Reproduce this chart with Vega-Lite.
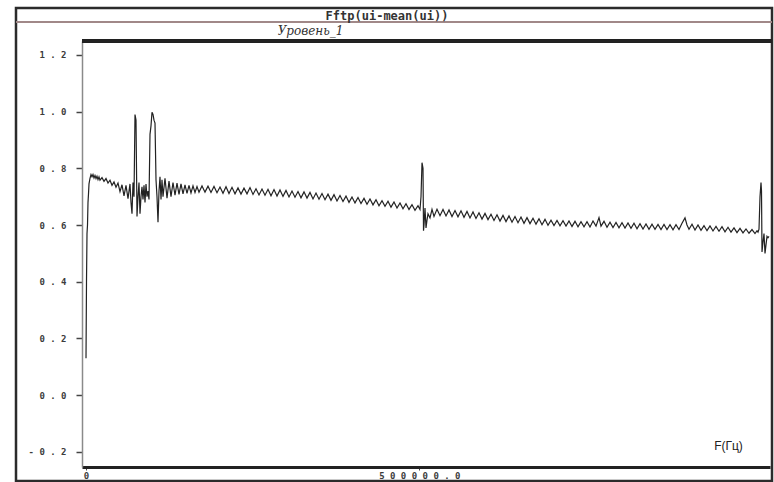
{
  "$schema": "https://vega.github.io/schema/vega-lite/v6.json",
  "autosize": {"type": "none"},
  "padding": {"left": 16, "top": 8, "right": 2, "bottom": 1},
  "width": 756,
  "height": 473,
  "background": "white",
  "config": {
    "view": {"stroke": "#2b2b2b", "strokeWidth": 2.5, "fill": "white"}
  },
  "title": {
    "text": "Fftp(ui-mean(ui))",
    "anchor": "middle",
    "frame": "group",
    "dx": -7,
    "dy": 14,
    "offset": -13,
    "baseline": "bottom",
    "font": "DejaVu Sans Mono",
    "fontSize": 12,
    "fontWeight": "bold",
    "color": "#333333"
  },
  "data": {
    "values": [
      {"f": 0, "v": 0.13}, {"f": 750, "v": 0.40}, {"f": 1500, "v": 0.57}, {"f": 2250, "v": 0.60},
      {"f": 3000, "v": 0.68}, {"f": 3750, "v": 0.71}, {"f": 4500, "v": 0.745}, {"f": 6000, "v": 0.765},
      {"f": 7500, "v": 0.778}, {"f": 9000, "v": 0.77}, {"f": 10500, "v": 0.778}, {"f": 12000, "v": 0.766},
      {"f": 13500, "v": 0.775}, {"f": 15000, "v": 0.764}, {"f": 16500, "v": 0.772}, {"f": 18000, "v": 0.76},
      {"f": 19500, "v": 0.77}, {"f": 21000, "v": 0.758}, {"f": 24000, "v": 0.767}, {"f": 27000, "v": 0.754},
      {"f": 30000, "v": 0.764}, {"f": 33000, "v": 0.748}, {"f": 36000, "v": 0.758}, {"f": 39000, "v": 0.74},
      {"f": 42000, "v": 0.752}, {"f": 45000, "v": 0.733}, {"f": 48000, "v": 0.748}, {"f": 51000, "v": 0.718},
      {"f": 54000, "v": 0.742}, {"f": 57000, "v": 0.703}, {"f": 60000, "v": 0.74}, {"f": 63000, "v": 0.693},
      {"f": 66000, "v": 0.745}, {"f": 67500, "v": 0.68}, {"f": 69000, "v": 0.64}, {"f": 70500, "v": 0.75},
      {"f": 72000, "v": 0.70}, {"f": 73500, "v": 0.99}, {"f": 75000, "v": 0.97}, {"f": 76500, "v": 0.63},
      {"f": 78000, "v": 0.70}, {"f": 79500, "v": 0.75}, {"f": 81000, "v": 0.64}, {"f": 82500, "v": 0.70},
      {"f": 84000, "v": 0.735}, {"f": 85500, "v": 0.69}, {"f": 87000, "v": 0.74}, {"f": 88500, "v": 0.68},
      {"f": 90000, "v": 0.745}, {"f": 91500, "v": 0.70}, {"f": 93000, "v": 0.72}, {"f": 94500, "v": 0.69},
      {"f": 96000, "v": 0.92}, {"f": 97500, "v": 0.95}, {"f": 99000, "v": 0.998}, {"f": 100500, "v": 0.99},
      {"f": 102000, "v": 0.97}, {"f": 103500, "v": 0.96}, {"f": 105000, "v": 0.76}, {"f": 106500, "v": 0.70},
      {"f": 108000, "v": 0.61}, {"f": 109500, "v": 0.72}, {"f": 111000, "v": 0.77}, {"f": 112500, "v": 0.69},
      {"f": 114000, "v": 0.76}, {"f": 115500, "v": 0.70}, {"f": 118500, "v": 0.765}, {"f": 121500, "v": 0.695},
      {"f": 124500, "v": 0.755}, {"f": 127500, "v": 0.70}, {"f": 130500, "v": 0.75}, {"f": 133500, "v": 0.705},
      {"f": 136500, "v": 0.748}, {"f": 139500, "v": 0.708}, {"f": 142500, "v": 0.745}, {"f": 145500, "v": 0.71},
      {"f": 148500, "v": 0.742}, {"f": 151500, "v": 0.712}, {"f": 154500, "v": 0.74}, {"f": 157500, "v": 0.713},
      {"f": 160500, "v": 0.738}, {"f": 163500, "v": 0.715}, {"f": 166500, "v": 0.736}, {"f": 169500, "v": 0.716},
      {"f": 174000, "v": 0.738}, {"f": 178500, "v": 0.716}, {"f": 183000, "v": 0.737}, {"f": 187500, "v": 0.715},
      {"f": 192000, "v": 0.736}, {"f": 196500, "v": 0.714}, {"f": 201000, "v": 0.734}, {"f": 205500, "v": 0.712},
      {"f": 210000, "v": 0.735}, {"f": 214500, "v": 0.711}, {"f": 219000, "v": 0.733}, {"f": 223500, "v": 0.71},
      {"f": 228000, "v": 0.731}, {"f": 232500, "v": 0.709}, {"f": 237000, "v": 0.73}, {"f": 241500, "v": 0.71},
      {"f": 246000, "v": 0.732}, {"f": 250500, "v": 0.708}, {"f": 255000, "v": 0.728}, {"f": 259500, "v": 0.706},
      {"f": 264000, "v": 0.727}, {"f": 268500, "v": 0.705}, {"f": 273000, "v": 0.726}, {"f": 277500, "v": 0.703},
      {"f": 282000, "v": 0.725}, {"f": 286500, "v": 0.702}, {"f": 291000, "v": 0.724}, {"f": 295500, "v": 0.701},
      {"f": 300000, "v": 0.722}, {"f": 304500, "v": 0.699}, {"f": 309000, "v": 0.72}, {"f": 313500, "v": 0.698},
      {"f": 318000, "v": 0.718}, {"f": 322500, "v": 0.696}, {"f": 327000, "v": 0.717}, {"f": 331500, "v": 0.695},
      {"f": 336000, "v": 0.715}, {"f": 340500, "v": 0.692}, {"f": 345000, "v": 0.713}, {"f": 349500, "v": 0.691},
      {"f": 354000, "v": 0.711}, {"f": 358500, "v": 0.689}, {"f": 363000, "v": 0.709}, {"f": 367500, "v": 0.687},
      {"f": 372000, "v": 0.707}, {"f": 376500, "v": 0.685}, {"f": 381000, "v": 0.704}, {"f": 385500, "v": 0.683},
      {"f": 390000, "v": 0.702}, {"f": 394500, "v": 0.68}, {"f": 399000, "v": 0.699}, {"f": 403500, "v": 0.678},
      {"f": 408000, "v": 0.697}, {"f": 412500, "v": 0.676}, {"f": 417000, "v": 0.694}, {"f": 421500, "v": 0.673},
      {"f": 426000, "v": 0.692}, {"f": 430500, "v": 0.671}, {"f": 435000, "v": 0.689}, {"f": 439500, "v": 0.668},
      {"f": 444000, "v": 0.686}, {"f": 448500, "v": 0.666}, {"f": 453000, "v": 0.684}, {"f": 457500, "v": 0.663},
      {"f": 462000, "v": 0.681}, {"f": 466500, "v": 0.66}, {"f": 471000, "v": 0.678}, {"f": 475500, "v": 0.657},
      {"f": 480000, "v": 0.675}, {"f": 484500, "v": 0.655}, {"f": 489000, "v": 0.672}, {"f": 493500, "v": 0.652},
      {"f": 498000, "v": 0.668}, {"f": 501000, "v": 0.655}, {"f": 502500, "v": 0.70}, {"f": 504000, "v": 0.82},
      {"f": 505500, "v": 0.80}, {"f": 506250, "v": 0.58}, {"f": 507000, "v": 0.60}, {"f": 508500, "v": 0.66},
      {"f": 510000, "v": 0.59}, {"f": 511500, "v": 0.617}, {"f": 513000, "v": 0.64}, {"f": 516000, "v": 0.625},
      {"f": 519000, "v": 0.655}, {"f": 522000, "v": 0.63}, {"f": 526500, "v": 0.656}, {"f": 531000, "v": 0.633},
      {"f": 535500, "v": 0.655}, {"f": 540000, "v": 0.632}, {"f": 544500, "v": 0.653}, {"f": 549000, "v": 0.63},
      {"f": 553500, "v": 0.651}, {"f": 558000, "v": 0.629}, {"f": 562500, "v": 0.65}, {"f": 567000, "v": 0.627},
      {"f": 571500, "v": 0.648}, {"f": 576000, "v": 0.625}, {"f": 580500, "v": 0.646}, {"f": 585000, "v": 0.623},
      {"f": 589500, "v": 0.643}, {"f": 594000, "v": 0.621}, {"f": 598500, "v": 0.641}, {"f": 603000, "v": 0.619},
      {"f": 607500, "v": 0.638}, {"f": 612000, "v": 0.616}, {"f": 616500, "v": 0.636}, {"f": 621000, "v": 0.614},
      {"f": 625500, "v": 0.634}, {"f": 630000, "v": 0.612}, {"f": 634500, "v": 0.632}, {"f": 639000, "v": 0.61},
      {"f": 643500, "v": 0.63}, {"f": 648000, "v": 0.608}, {"f": 652500, "v": 0.628}, {"f": 657000, "v": 0.606},
      {"f": 661500, "v": 0.626}, {"f": 666000, "v": 0.605}, {"f": 670500, "v": 0.624}, {"f": 675000, "v": 0.603},
      {"f": 679500, "v": 0.622}, {"f": 684000, "v": 0.601}, {"f": 688500, "v": 0.62}, {"f": 693000, "v": 0.599},
      {"f": 697500, "v": 0.617}, {"f": 702000, "v": 0.598}, {"f": 706500, "v": 0.616}, {"f": 711000, "v": 0.597},
      {"f": 715500, "v": 0.615}, {"f": 720000, "v": 0.596}, {"f": 724500, "v": 0.614}, {"f": 729000, "v": 0.595},
      {"f": 733500, "v": 0.613}, {"f": 738000, "v": 0.594}, {"f": 742500, "v": 0.612}, {"f": 747000, "v": 0.594},
      {"f": 751500, "v": 0.612}, {"f": 756000, "v": 0.593}, {"f": 760500, "v": 0.614}, {"f": 765000, "v": 0.596},
      {"f": 769500, "v": 0.626}, {"f": 772500, "v": 0.596}, {"f": 777000, "v": 0.613}, {"f": 781500, "v": 0.592},
      {"f": 786000, "v": 0.61}, {"f": 790500, "v": 0.591}, {"f": 795000, "v": 0.609}, {"f": 799500, "v": 0.59},
      {"f": 804000, "v": 0.608}, {"f": 808500, "v": 0.589}, {"f": 813000, "v": 0.607}, {"f": 817500, "v": 0.588},
      {"f": 822000, "v": 0.606}, {"f": 826500, "v": 0.587}, {"f": 831000, "v": 0.605}, {"f": 835500, "v": 0.586},
      {"f": 840000, "v": 0.604}, {"f": 844500, "v": 0.585}, {"f": 849000, "v": 0.603}, {"f": 853500, "v": 0.585},
      {"f": 858000, "v": 0.602}, {"f": 862500, "v": 0.584}, {"f": 867000, "v": 0.602}, {"f": 871500, "v": 0.584},
      {"f": 876000, "v": 0.601}, {"f": 880500, "v": 0.583}, {"f": 885000, "v": 0.601}, {"f": 889500, "v": 0.584},
      {"f": 894000, "v": 0.606}, {"f": 898500, "v": 0.625}, {"f": 901500, "v": 0.6}, {"f": 904500, "v": 0.585},
      {"f": 909000, "v": 0.603}, {"f": 913500, "v": 0.582}, {"f": 918000, "v": 0.6}, {"f": 922500, "v": 0.581},
      {"f": 927000, "v": 0.598}, {"f": 931500, "v": 0.58}, {"f": 936000, "v": 0.597}, {"f": 940500, "v": 0.579},
      {"f": 945000, "v": 0.595}, {"f": 949500, "v": 0.578}, {"f": 954000, "v": 0.594}, {"f": 958500, "v": 0.576},
      {"f": 963000, "v": 0.592}, {"f": 967500, "v": 0.575}, {"f": 972000, "v": 0.59}, {"f": 976500, "v": 0.573},
      {"f": 981000, "v": 0.588}, {"f": 985500, "v": 0.572}, {"f": 990000, "v": 0.586}, {"f": 994500, "v": 0.571},
      {"f": 999000, "v": 0.584}, {"f": 1003500, "v": 0.57}, {"f": 1006500, "v": 0.58}, {"f": 1008000, "v": 0.575},
      {"f": 1009500, "v": 0.585}, {"f": 1011000, "v": 0.70}, {"f": 1012500, "v": 0.75}, {"f": 1013250, "v": 0.72},
      {"f": 1014000, "v": 0.505}, {"f": 1015500, "v": 0.54}, {"f": 1017000, "v": 0.57}, {"f": 1018500, "v": 0.50},
      {"f": 1020000, "v": 0.53}, {"f": 1021500, "v": 0.56}, {"f": 1023000, "v": 0.555}, {"f": 1024500, "v": 0.56}
    ]
  },
  "layer": [
    {
      "mark": {"type": "line", "stroke": "#222222", "strokeWidth": 1.2, "clip": false},
      "encoding": {
        "x": {
          "field": "f",
          "type": "quantitative",
          "scale": {"domain": [-6000, 1026000], "range": [66, 754], "nice": false, "zero": false},
          "axis": {
            "orient": "bottom",
            "offset": -14,
            "values": [0, 500000],
            "grid": false,
            "domainColor": "#222222",
            "domainWidth": 3,
            "tickColor": "#444444",
            "tickSize": 3,
            "labelFont": "DejaVu Sans Mono",
            "labelFontSize": 9,
            "labelFontWeight": "bold",
            "labelColor": "#3c3c3c",
            "labelPadding": 1,
            "labelFlush": true,
            "labelExpr": "datum.value == 0 ? '0' : join(split(format(datum.value, '.1f'), ''), ' ')",
            "title": "F(Гц)",
            "titleFont": "Liberation Sans",
            "titleFontSize": 12,
            "titleFontWeight": "normal",
            "titleColor": "#222222",
            "titleX": 712,
            "titleY": -22,
            "titleAlign": "center",
            "titleBaseline": "middle",
            "titleAngle": 0
          }
        },
        "y": {
          "field": "v",
          "type": "quantitative",
          "scale": {"domain": [-0.254, 1.2494], "range": [459, 33], "nice": false, "zero": false},
          "axis": {
            "orient": "left",
            "offset": -66,
            "values": [-0.2, 0, 0.2, 0.4, 0.6, 0.8, 1.0, 1.2],
            "format": ".1f",
            "grid": false,
            "domainColor": "#8a8a8a",
            "domainWidth": 1.5,
            "tickColor": "#444444",
            "tickSize": 6,
            "tickWidth": 1.5,
            "labelFont": "DejaVu Sans Mono",
            "labelFontSize": 9,
            "labelFontWeight": "bold",
            "labelColor": "#3c3c3c",
            "labelPadding": 10,
            "labelExpr": "join(split(replace(datum.label, '−', '-'), ''), ' ')",
            "title": "Уровень_1",
            "titleFont": "DejaVu Serif",
            "titleFontSize": 12,
            "titleFontStyle": "italic",
            "titleFontWeight": "normal",
            "titleColor": "#333333",
            "titleAngle": 0,
            "titleX": 228,
            "titleY": 22,
            "titleAlign": "center",
            "titleBaseline": "middle"
          }
        }
      }
    },
    {
      "mark": {"type": "rule", "stroke": "#a08888", "strokeWidth": 1},
      "encoding": {
        "y": {"datum": 1.3165, "type": "quantitative"}
      }
    },
    {
      "mark": {"type": "rule", "stroke": "#222222", "strokeWidth": 2.5},
      "encoding": {
        "y": {"datum": 1.2494, "type": "quantitative"},
        "x": {"datum": -6000, "type": "quantitative"},
        "x2": {"datum": 1029000}
      }
    }
  ]
}
